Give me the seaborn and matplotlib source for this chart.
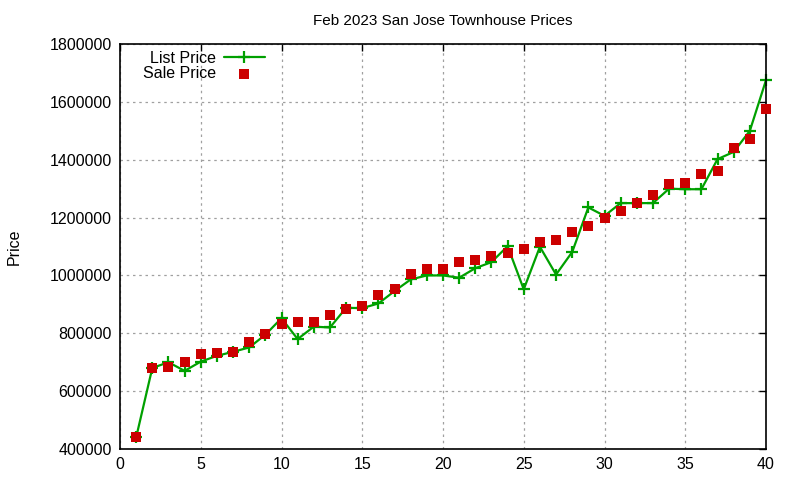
import matplotlib
matplotlib.use("Agg")
import matplotlib.pyplot as plt
import seaborn as sns
import pandas as pd
import numpy as np

homes = list(range(1, 41))
list_price = [440000, 680000, 700000, 670000, 702000, 722000, 736000, 751000, 795000, 852000,
              780000, 823000, 820000, 888000, 887000, 903000, 946000, 986000, 1000000, 1000000,
              992000, 1025000, 1046000, 1101000, 952000, 1099000, 1003000, 1081000, 1235000, 1206000,
              1250000, 1250000, 1250000, 1300000, 1298000, 1298000, 1402000, 1427000, 1500000, 1675000]
sale_price = [442000, 680000, 684000, 702000, 729000, 732000, 737000, 770000, 798000, 831000,
              840000, 840000, 864000, 884000, 894000, 932000, 953000, 1005000, 1022000, 1022000,
              1046000, 1053000, 1067000, 1077000, 1091000, 1114000, 1122000, 1150000, 1171000, 1198000,
              1223000, 1251000, 1278000, 1315000, 1320000, 1351000, 1361000, 1441000, 1473000, 1576000]

title = "Feb 2023 San Jose Townhouse Prices"
x_ticks = [0, 5, 10, 15, 20, 25, 30, 35, 40]
y_ticks = [400000, 600000, 800000, 1000000, 1200000, 1400000, 1600000, 1800000]

df = pd.DataFrame({"n": homes, "list": list_price, "sale": sale_price})

sns.set_style("white")
plt.rcParams['font.family'] = ['Liberation Sans', 'DejaVu Sans']
plt.rcParams['text.color'] = 'black'
plt.rcParams['axes.labelcolor'] = 'black'

fig = plt.figure(figsize=(8, 4.8), dpi=100)
ax = fig.add_axes([0.15, 0.0646, 0.8075, 0.8437])

green = "#00a000"
red = "#cc0000"
sns.lineplot(data=df, x="n", y="list", ax=ax, color=green, lw=1.6, marker="+",
             markersize=8, markeredgewidth=1.6, markeredgecolor=green, label="List Price",
             clip_on=False)
sns.scatterplot(data=df, x="n", y="sale", ax=ax, color=red, marker="s", s=48,
                linewidth=0, label="Sale Price", zorder=3, clip_on=False)

ax.set_xlim(0, 40)
ax.set_ylim(400000, 1800000)
ax.set_xticks(x_ticks)
ax.set_yticks(y_ticks)
ax.set_xticklabels([str(t) for t in x_ticks])
ax.set_yticklabels([str(t) for t in y_ticks])
ax.tick_params(direction="in", top=True, right=True, labelsize=11.5, length=5, width=1,
               colors="black", pad=6)
ax.grid(True, color="#a0a0a0", linestyle=(0, (2, 3)), linewidth=0.9)
for s in ax.spines.values():
    s.set_visible(True)
    s.set_color("black")
    s.set_linewidth(1.2)

ax.set_xlabel("")
ax.set_ylabel("Price", fontsize=11.5, labelpad=20, color="black")
ax.set_title(title, fontsize=11, pad=14, color="black")

leg = ax.legend(loc="upper left", frameon=False, markerfirst=False, fontsize=11.5,
                handlelength=2.6, handletextpad=0.5, labelspacing=0.02,
                borderaxespad=0.2, bbox_to_anchor=(0.02, 1.007))
for t in leg.get_texts():
    t.set_color("black")

fig.savefig("out.png", dpi=100)
